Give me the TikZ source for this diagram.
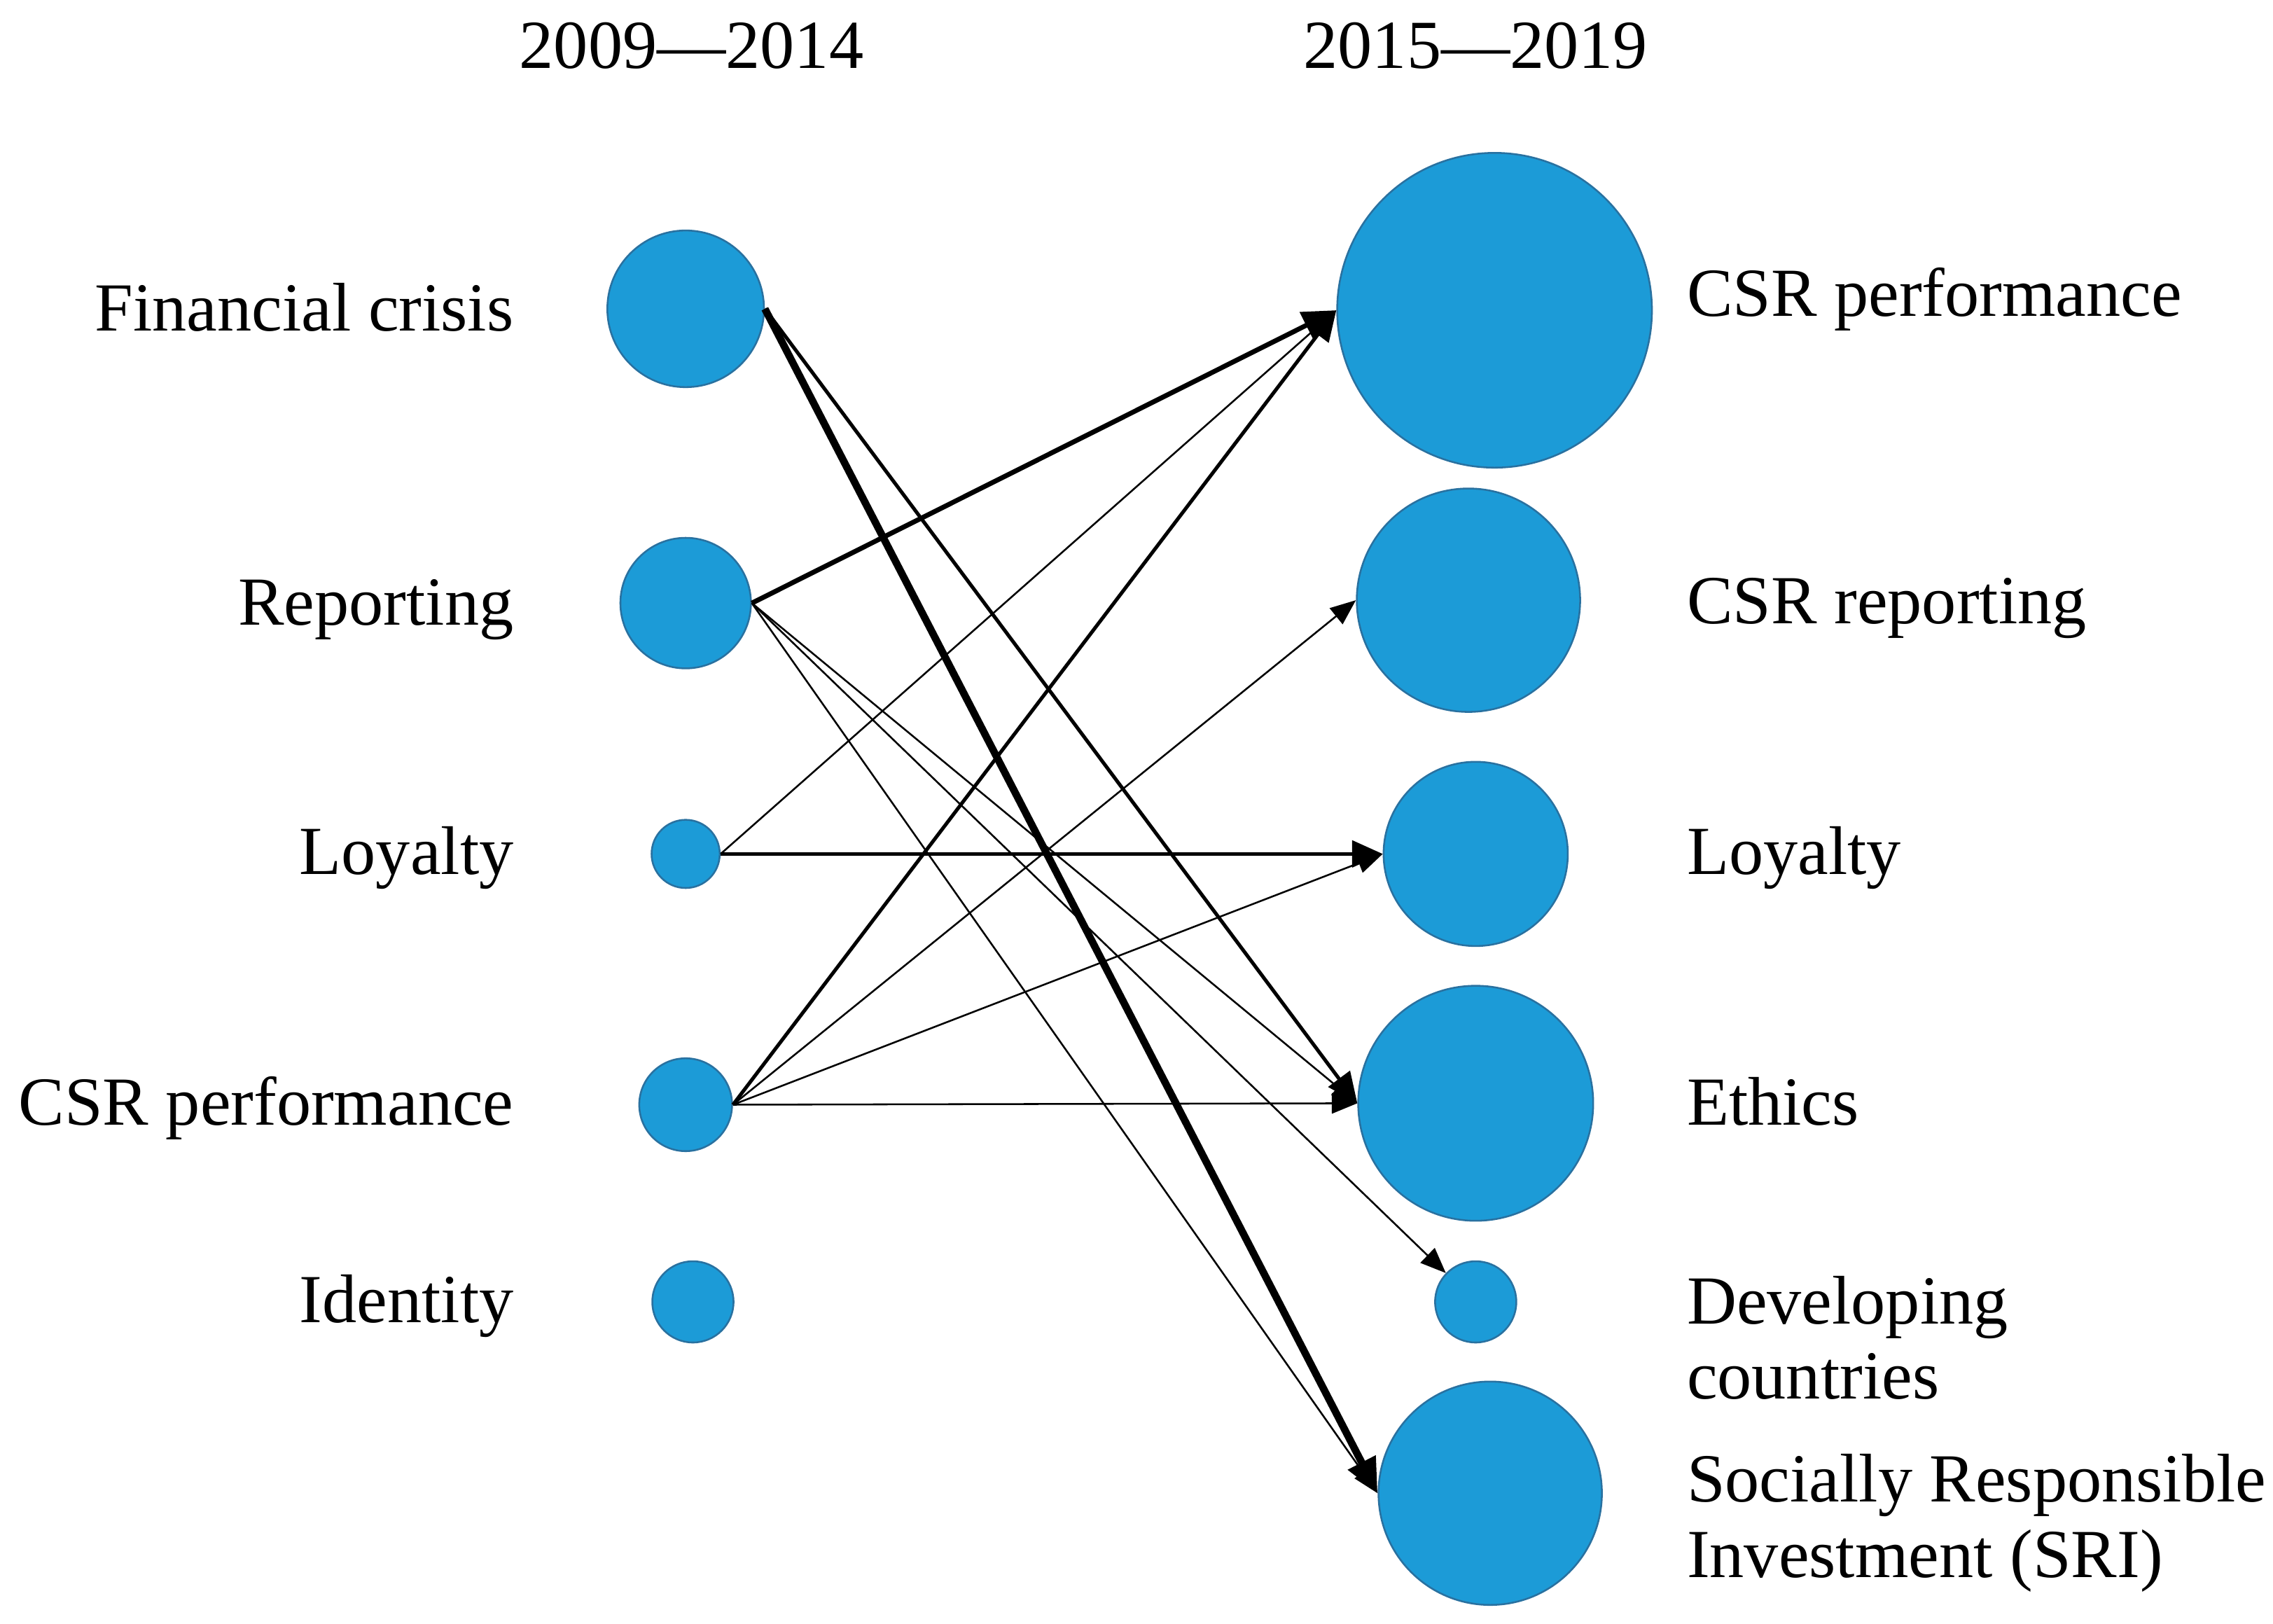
\documentclass[tikz,border=0pt]{standalone}
\usepackage{fontspec}
\setmainfont{Liberation Serif}
\usetikzlibrary{arrows.meta}
\definecolor{bubble}{RGB}{28,155,215}
\definecolor{bubbleedge}{RGB}{41,113,160}
\begin{document}
\begin{tikzpicture}[x=0.01cm,y=-0.01cm,
  bub/.style={circle, fill=bubble, draw=bubbleedge, line width=0.35pt, inner sep=0pt},
  lbl/.style={inner sep=0pt, font=\fontsize{13.5}{15}\selectfont},
  lblr/.style={lbl, anchor=base east},
  lbll/.style={lbl, anchor=base west, align=left},
  thinarr/.style={line width=0.35pt, -{Triangle[length=5pt,width=4pt]}},
  medarr/.style={line width=0.7pt, -{Triangle[length=6pt,width=5.2pt]}},
  thickarr/.style={line width=0.95pt, -{Triangle[length=6.6pt,width=5.6pt]}},
  vthickarr/.style={line width=1.45pt, -{Triangle[length=6.8pt,width=5.8pt]}}
]
\useasboundingbox (0,0) rectangle (1568,1120);

% headers
\node[lbl, anchor=base] (h1) at (477,47) {2009—2014};
\node[lbl, anchor=base] (h2) at (1018,47) {2015—2019};

% left labels
\node[lblr] (t1) at (355,228) {Financial crisis};
\node[lblr] (t2) at (355,431) {Reporting};
\node[lblr] (t3) at (355,603) {Loyalty};
\node[lblr] (t4) at (355,776) {CSR performance};
\node[lblr] (t5) at (355,912) {Identity};

% right labels
\node[lbll] (u1) at (1163,218) {CSR performance};
\node[lbll] (u2) at (1163,430) {CSR reporting};
\node[lbll] (u3) at (1163,603) {Loyalty};
\node[lbll] (u4) at (1163,776) {Ethics};
\node[lbll] (u5) at (1163,913) {Developing};
\node[lbll] (u5b) at (1163,965) {countries};
\node[lbll] (u6) at (1163,1036) {Socially Responsible};
\node[lbll] (u6b) at (1163,1088) {Investment (SRI)};

% left bubbles
\node[bub, minimum size=1.08cm] (l1) at (473,213) {};
\node[bub, minimum size=0.90cm] (l2) at (473,416) {};
\node[bub, minimum size=0.47cm] (l3) at (473,589) {};
\node[bub, minimum size=0.64cm] (l4) at (473,762) {};
\node[bub, minimum size=0.56cm] (l5) at (478,898) {};

% right bubbles
\node[bub, minimum size=2.17cm] (r1) at (1031,214) {};
\node[bub, minimum size=1.54cm] (r2) at (1013,414) {};
\node[bub, minimum size=1.27cm] (r3) at (1018,589) {};
\node[bub, minimum size=1.62cm] (r4) at (1018,761) {};
\node[bub, minimum size=0.56cm] (r5) at (1018,898) {};
\node[bub, minimum size=1.54cm] (r6) at (1028,1030) {};

% connectors
\draw[thinarr] (l2.east) -- (r4.west);
\draw[thinarr] (l2.east) -- (r5);
\draw[thinarr] (l2.east) -- (r6.west);
\draw[thinarr] (l3.east) -- (r1.west);
\draw[thinarr] (l4.east) -- (r2.west);
\draw[thinarr] (l4.east) -- (r3.west);
\draw[thinarr] (l4.east) -- (r4.west);
\draw[medarr] (l1.east) -- (r4.west);
\draw[medarr] (l3.east) -- (r3.west);
\draw[medarr] (l4.east) -- (r1.west);
\draw[thickarr] (l2.east) -- (r1.west);
\draw[vthickarr] (l1.east) -- (r6.west);
\end{tikzpicture}
\end{document}
